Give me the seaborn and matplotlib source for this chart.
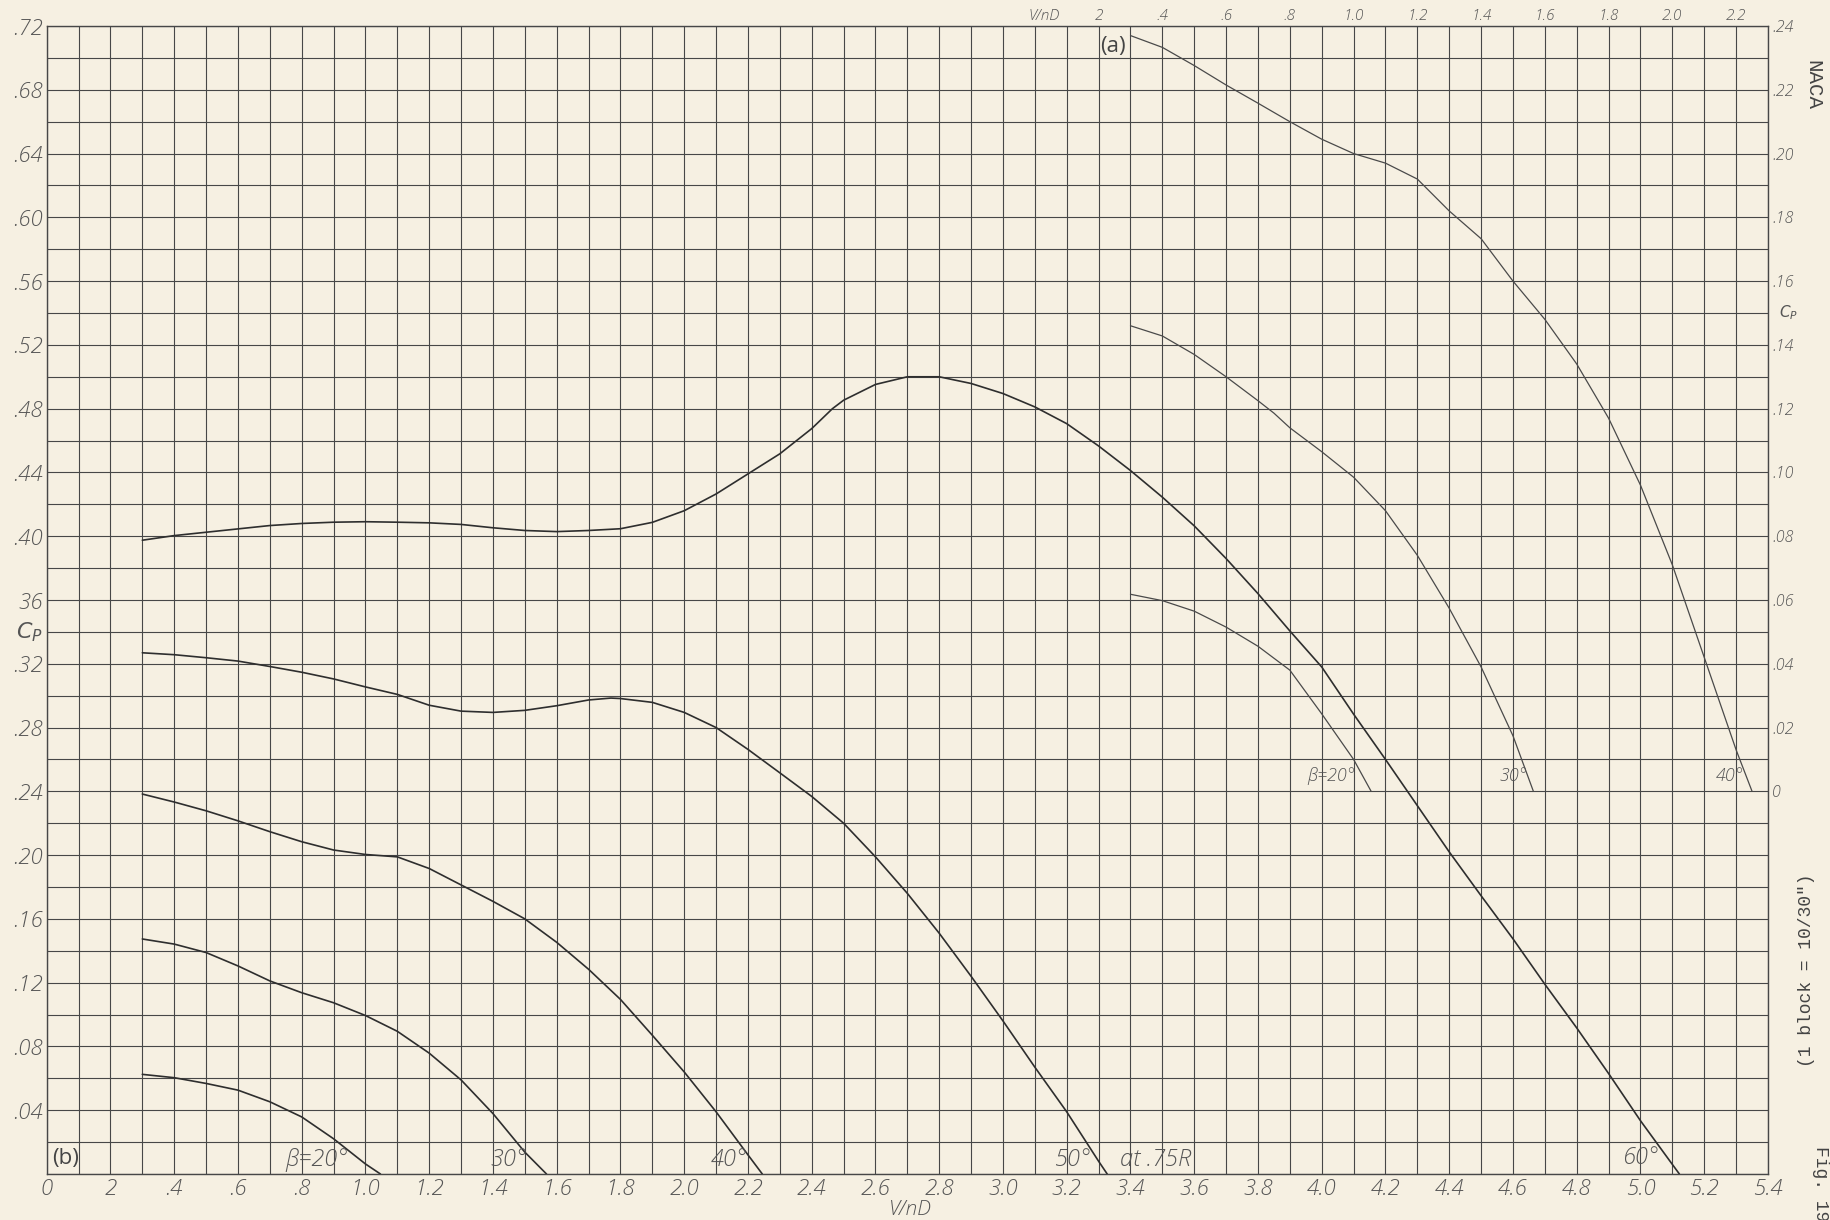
import matplotlib
matplotlib.use("Agg")
import matplotlib.pyplot as plt
import numpy as np
import seaborn as sns

# ---- data (b): main chart, Cp vs V/nD, blade angle at .75R ----
v20 = [0.30, 0.40, 0.50, 0.60, 0.70, 0.80, 0.90, 1.00, 1.047]
cp20 = [0.0625, 0.0604, 0.0568, 0.0526, 0.0453, 0.0358, 0.0221, 0.0063, 0.0]

v30 = [0.30, 0.40, 0.50, 0.60, 0.70, 0.80, 0.90, 1.00, 1.10, 1.20, 1.30, 1.40, 1.50, 1.568]
cp30 = [0.1474, 0.1442, 0.1389, 0.1305, 0.1211, 0.1137, 0.1074, 0.0994, 0.0895, 0.0758,
        0.0590, 0.0379, 0.0137, 0.0]

v40 = [0.30, 0.40, 0.50, 0.60, 0.70, 0.80, 0.90, 1.00, 1.10, 1.20, 1.30, 1.40, 1.50,
       1.60, 1.70, 1.80, 1.90, 2.00, 2.10, 2.20, 2.245]
cp40 = [0.2383, 0.2333, 0.2278, 0.2215, 0.2147, 0.2084, 0.2032, 0.2004, 0.1989, 0.1916,
        0.1813, 0.1710, 0.1600, 0.1453, 0.1284, 0.1095, 0.0870, 0.0640, 0.0390, 0.0120, 0.0]

v50 = [0.30, 0.40, 0.50, 0.60, 0.70, 0.80, 0.90, 1.00, 1.10, 1.20, 1.30, 1.40, 1.50,
       1.60, 1.70, 1.77, 1.80, 1.90, 2.00, 2.10, 2.20, 2.30, 2.40, 2.50, 2.60, 2.70,
       2.80, 2.90, 3.00, 3.10, 3.20, 3.30, 3.327]
cp50 = [0.3269, 0.3257, 0.3238, 0.3217, 0.3183, 0.3147, 0.3105, 0.3055, 0.3008, 0.2940,
        0.2903, 0.2895, 0.2908, 0.2937, 0.2973, 0.2985, 0.2982, 0.2958, 0.2895, 0.2800,
        0.2663, 0.2516, 0.2368, 0.2200, 0.1989, 0.1760, 0.1510, 0.1240, 0.0960, 0.0670,
        0.0390, 0.0080, 0.0]

v60 = [0.30, 0.40, 0.50, 0.60, 0.70, 0.80, 0.90, 1.00, 1.10, 1.20, 1.30, 1.40, 1.50,
       1.60, 1.70, 1.80, 1.90, 2.00, 2.10, 2.20, 2.30, 2.40, 2.465, 2.50, 2.60, 2.70,
       2.80, 2.90, 3.00, 3.10, 3.20, 3.30, 3.40, 3.50, 3.60, 3.70, 3.80, 3.90, 4.00,
       4.10, 4.20, 4.30, 4.40, 4.50, 4.60, 4.70, 4.80, 4.90, 5.00, 5.10, 5.122]
cp60 = [0.3975, 0.4004, 0.4025, 0.4046, 0.4067, 0.4080, 0.4088, 0.4091, 0.4088, 0.4084,
        0.4074, 0.4053, 0.4036, 0.4029, 0.4036, 0.4047, 0.4087, 0.4160, 0.4265, 0.4391,
        0.4517, 0.4675, 0.4800, 0.4853, 0.4952, 0.5000, 0.5000, 0.4958, 0.4895, 0.4811,
        0.4706, 0.4566, 0.4412, 0.4245, 0.4065, 0.3860, 0.3640, 0.3406, 0.3180, 0.2884,
        0.2600, 0.2310, 0.2020, 0.1745, 0.1475, 0.1190, 0.0916, 0.0630, 0.0334, 0.0060, 0.0]

# ---- data (a): inset, own scales (top / right) ----
va20 = [0.30, 0.40, 0.50, 0.60, 0.70, 0.80, 0.90, 1.00, 1.055]
cpa20 = [0.0618, 0.0598, 0.0565, 0.0515, 0.0455, 0.0380, 0.0243, 0.0100, 0.0]

va30 = [0.30, 0.40, 0.50, 0.60, 0.70, 0.75, 0.80, 0.90, 1.00, 1.10, 1.20, 1.30, 1.40,
        1.50, 1.564]
cpa30 = [0.1460, 0.1428, 0.1370, 0.1300, 0.1225, 0.1186, 0.1140, 0.1065, 0.0985, 0.0880,
         0.0740, 0.0574, 0.0390, 0.0174, 0.0]

va40 = [0.30, 0.40, 0.50, 0.60, 0.70, 0.80, 0.90, 1.00, 1.10, 1.20, 1.30, 1.40, 1.50,
        1.60, 1.70, 1.80, 1.90, 2.00, 2.10, 2.20, 2.25]
cpa40 = [0.2370, 0.2333, 0.2276, 0.2215, 0.2158, 0.2100, 0.2045, 0.2000, 0.1970, 0.1920,
         0.1820, 0.1733, 0.1600, 0.1480, 0.1340, 0.1170, 0.0960, 0.0710, 0.0420, 0.0130, 0.0]

# tick labels as lettered on the sheet
x_ticks = [round(0.2 * i, 1) for i in range(28)]
x_labels = ['0', '2', '.4', '.6', '.8', '1.0', '1.2', '1.4', '1.6', '1.8', '2.0', '2.2',
            '2.4', '2.6', '2.8', '3.0', '3.2', '3.4', '3.6', '3.8', '4.0', '4.2', '4.4',
            '4.6', '4.8', '5.0', '5.2', '5.4']
y_ticks = [round(0.04 * i, 2) for i in range(19)]
y_labels = ['', '.04', '.08', '.12', '.16', '.20', '.24', '.28', '.32', '36', '.40',
            '.44', '.48', '.52', '.56', '.60', '.64', '.68', '.72']
xa_ticks = [round(0.2 * i, 1) for i in range(1, 12)]
xa_labels = ['2', '.4', '.6', '.8', '1.0', '1.2', '1.4', '1.6', '1.8', '2.0', '2.2']
ya_ticks = [round(0.02 * i, 2) for i in range(13)]
ya_labels = ['0', '.02', '.04', '.06', '.08', '.10', '.12', '.14', '.16', '.18', '.20',
             '.22', '.24']

paper = '#f6f0e2'
ink = '#474747'
letter = '#555555'
lettering = dict(family=['Open Sans', 'DejaVu Sans'], style='italic', weight='light',
                 color=letter)

sns.set_style('white')
plt.rcParams['font.family'] = ['Open Sans', 'DejaVu Sans']
plt.rcParams['mathtext.fontset'] = 'dejavusans'

fig = plt.figure(figsize=(18.3, 12.2), dpi=100)
fig.patch.set_facecolor(paper)

L, B, W, H = 0.02552, 0.03770, 0.94060, 0.94098
ax = fig.add_axes([L, B, W, H])
ax.set_facecolor(paper)
ax.set_xlim(0, 5.4)
ax.set_ylim(0, 0.72)
ax.set_xticks(x_ticks)
ax.set_xticklabels(x_labels, fontdict=lettering, fontsize=16)
ax.set_xticks([round(0.1 + 0.2 * i, 1) for i in range(27)], minor=True)
ax.set_yticks(y_ticks)
ax.set_yticklabels(y_labels, fontdict=lettering, fontsize=16)
ax.set_yticks([round(0.02 + 0.04 * i, 2) for i in range(18)], minor=True)
ax.tick_params(which='both', length=0)
ax.tick_params(axis='x', pad=3)
ax.tick_params(axis='y', pad=3)
ax.grid(which='both', color=ink, lw=0.8)
ax.set_axisbelow(True)
for s in ax.spines.values():
    s.set_color(ink)
    s.set_linewidth(1.0)

for v, cp in [(v20, cp20), (v30, cp30), (v40, cp40), (v50, cp50), (v60, cp60)]:
    sns.lineplot(x=v, y=cp, ax=ax, color='#2e2e2e', lw=1.2, estimator=None, sort=False)

ax.set_xlabel('')
ax.set_ylabel('')
ax.text(2.71, -0.0225, 'V/nD', ha='center', va='center', fontsize=15, **lettering)
ax.text(-0.055, 0.340, '$C_P$', ha='center', va='center', fontsize=16, color=letter)
ax.text(0.06, 0.010, '(b)', ha='center', va='center', fontsize=16, color='#444444')
ax.text(0.845, 0.009, 'β=20°', ha='center', va='center', fontsize=17, **lettering)
ax.text(1.45, 0.009, '30°', ha='center', va='center', fontsize=17, **lettering)
ax.text(2.14, 0.009, '40°', ha='center', va='center', fontsize=17, **lettering)
ax.text(3.22, 0.009, '50°', ha='center', va='center', fontsize=17, **lettering)
ax.text(3.48, 0.009, 'at .75R', ha='center', va='center', fontsize=17, **lettering)
ax.text(5.00, 0.010, '60°', ha='center', va='center', fontsize=17, **lettering)

# inset (a): V/nD 0..2.3 over main 3.1..5.4, Cp 0..0.24 over main 0.24..0.72
axa = fig.add_axes([L + W * 3.1 / 5.4, B + H * 0.24 / 0.72, W * 2.3 / 5.4, H * 0.48 / 0.72])
axa.patch.set_visible(False)
axa.set_xlim(0, 2.3)
axa.set_ylim(0, 0.24)
for s in axa.spines.values():
    s.set_visible(False)
axa.xaxis.tick_top()
axa.yaxis.tick_right()
axa.set_xticks(xa_ticks)
axa.set_xticklabels(xa_labels, fontdict=lettering, fontsize=11)
axa.set_yticks(ya_ticks)
axa.set_yticklabels(ya_labels, fontdict=lettering, fontsize=11.5)
axa.tick_params(which='both', length=0)
axa.tick_params(axis='x', pad=2)
axa.tick_params(axis='y', pad=3)

for v, cp in [(va20, cpa20), (va30, cpa30), (va40, cpa40)]:
    sns.lineplot(x=v, y=cp, ax=axa, color='#4a4a4a', lw=0.9, estimator=None, sort=False)

axa.set_xlabel('')
axa.set_ylabel('')
axa.text(0.03, 0.2410, 'V/nD', ha='center', va='bottom', fontsize=11, **lettering)
axa.text(2.335, 0.150, '$C_P$', ha='left', va='center', fontsize=11, color=letter)
axa.text(0.245, 0.2335, '(a)', ha='center', va='center', fontsize=16, color='#444444')
axa.text(0.93, 0.0048, 'β=20°', ha='center', va='center', fontsize=13, **lettering)
axa.text(1.50, 0.0048, '30°', ha='center', va='center', fontsize=13, **lettering)
axa.text(2.18, 0.0048, '40°', ha='center', va='center', fontsize=13, **lettering)

# sheet notes on the right margin
mono = ['Liberation Mono', 'DejaVu Sans Mono']
fig.text(0.9907, 0.930, 'NACA', rotation=270, ha='center', va='center', fontsize=15,
         family=mono, color='#444444')
fig.text(0.9874, 0.205, '(1 block = 10/30")', rotation=90, ha='center', va='center',
         fontsize=13, family=mono, color='#444444')
fig.text(0.9950, 0.030, 'Fig. 19', rotation=270, ha='center', va='center', fontsize=13,
         family=mono, color='#444444')

fig.savefig('out.png', dpi=100, facecolor=paper)
